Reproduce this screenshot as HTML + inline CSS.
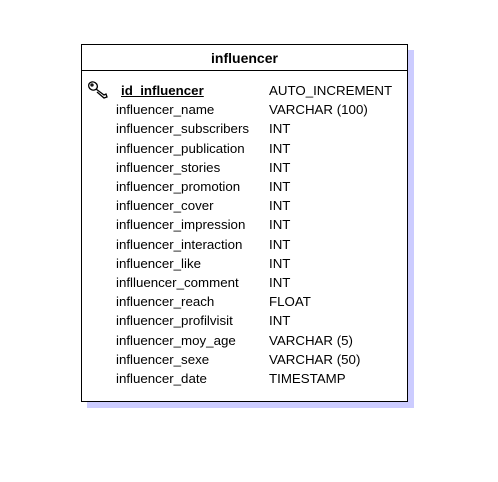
<!DOCTYPE html>
<html><head><style>
body{margin:0;width:498px;height:482px;background:#fff;position:relative;font-family:"Liberation Sans",Arial,sans-serif;font-size:13.3px;color:#000}
.sh{position:absolute;left:87px;top:50px;width:327px;height:358px;background:#ccccff}
.box{position:absolute;left:81px;top:44px;width:325px;height:356px;border:1px solid #000;background:#fff}
.hd{position:absolute;left:0;top:0;width:325px;height:25px;border-bottom:1px solid #000;text-align:center;font-weight:bold;font-size:14px;line-height:26px}
.r{position:absolute;white-space:nowrap;line-height:15px}
</style></head><body>
<div class="sh"></div>
<div class="box"><div class="hd">influencer</div></div>
<svg style="position:absolute;left:87px;top:80px" width="24" height="20" viewBox="0 0 24 20">
<g fill="none" stroke="#000" stroke-width="1.3">
<ellipse cx="6" cy="6" rx="4.5" ry="4" transform="rotate(30 6 6)"/>
<path d="M9 9 L17 15 L19 14 L20 17 L17 18 L10 12"/>
<circle cx="5" cy="5" r="1"/>
</g></svg>
<div id="rows"></div>
<script>
var d=[["id_influencer","AUTO_INCREMENT"],["influencer_name","VARCHAR (100)"],["influencer_subscribers","INT"],["influencer_publication","INT"],["influencer_stories","INT"],["influencer_promotion","INT"],["influencer_cover","INT"],["influencer_impression","INT"],["influencer_interaction","INT"],["influencer_like","INT"],["inflluencer_comment","INT"],["influencer_reach","FLOAT"],["influencer_profilvisit","INT"],["influencer_moy_age","VARCHAR (5)"],["influencer_sexe","VARCHAR (50)"],["influencer_date","TIMESTAMP"]];
var h="";
for(var i=0;i<d.length;i++){var y=83+i*19.2;
if(i==0)h+='<div class="r" style="left:121px;top:'+y+'px;font-weight:bold;text-decoration:underline">'+d[i][0]+'</div>';
else h+='<div class="r" style="left:116px;top:'+y+'px">'+d[i][0]+'</div>';
h+='<div class="r" style="left:269px;top:'+y+'px">'+d[i][1]+'</div>';}
document.getElementById("rows").innerHTML=h;
</script>
</body></html>
